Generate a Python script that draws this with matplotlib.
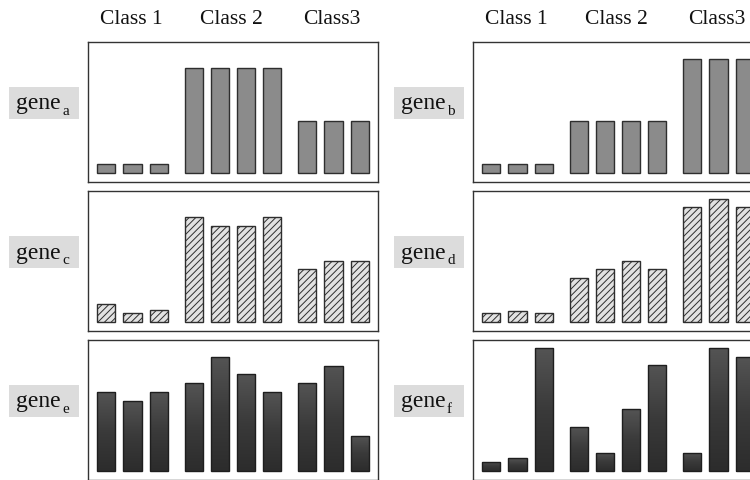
import numpy as np
import matplotlib
matplotlib.use("Agg")
import matplotlib.pyplot as plt
from matplotlib.colors import LinearSegmentedColormap
from matplotlib.patches import Rectangle
from matplotlib.text import Annotation

# ---- data ----
classes = ["Class 1", "Class 2", "Class3"]
group_sizes = [3, 4, 3]
gene_a = [8.7, 8.7, 8.7, 105, 105, 105, 105, 52, 52, 52]
gene_b = [8.7, 8.7, 8.7, 52, 52, 52, 52, 113.7, 113.7, 113.7]
gene_c = [17.7, 9, 12.3, 105.3, 96.3, 96.3, 105.3, 52.7, 61.3, 61.3]
gene_d = [9, 11.5, 9, 44, 52.7, 61.3, 52.7, 114.7, 123.3, 114.7]
gene_e = [79, 70.3, 79, 87.7, 114, 96.7, 79, 87.7, 105.3, 35.3]
gene_f = [9.3, 12.7, 123, 44.3, 18.3, 61.7, 105.7, 18.3, 123, 114.3]
gene_subs = ["a", "b", "c", "d", "e", "f"]

W, H = 750, 481
fig = plt.figure(figsize=(W / 100, H / 100), dpi=100)
fig.patch.set_facecolor("white")

serif = ["Liberation Serif", "DejaVu Serif"]

# x positions of bars: groups separated by an extra gap
gap = 0.335
xs = []
pos = 0.0
group_centers = []
for gi, n in enumerate(group_sizes):
    g = []
    for k in range(n):
        g.append(pos)
        pos += 1
    xs.extend(g)
    group_centers.append((g[0] + g[-1]) / 2)
    pos += gap
xs = np.array(xs)
bw = 0.69

grad_cmap = LinearSegmentedColormap.from_list("g", ["#2c2c2c", "#3a3a3a", "#545454"])
grad = np.linspace(0, 1, 256).reshape(-1, 1)

panel_left = [88, 473]
panel_w = 290
row_top = [43, 192, 341]
panel_h = 140
label_left = [9, 394]
label_w = 70

data = [[gene_a, gene_b], [gene_c, gene_d], [gene_e, gene_f]]
styles = ["solid", "hatch", "grad"]

for r in range(3):
    for c in range(2):
        vals = data[r][c]
        sub = gene_subs[r * 2 + c]
        x0 = panel_left[c]
        y_top = row_top[r]
        ax = fig.add_axes([x0 / W, (H - y_top - panel_h) / H, panel_w / W, panel_h / H])
        st = styles[r]
        if st == "solid":
            ax.bar(xs, vals, bw, color="#8b8b8b", edgecolor="#2e2e2e", linewidth=1.0, zorder=3)
        elif st == "hatch":
            with plt.rc_context({"hatch.color": "#7a7a7a", "hatch.linewidth": 0.7}):
                ax.bar(xs, vals, bw, color="#e2e2e2", edgecolor="#2e2e2e", linewidth=1.0,
                       hatch="/////", zorder=3)
        else:
            bars = ax.bar(xs, vals, bw, color="none", edgecolor="#1e1e1e", linewidth=1.0, zorder=3)
            for b in bars:
                bx, by = b.get_x(), b.get_y()
                w, h = b.get_width(), b.get_height()
                im = ax.imshow(grad, extent=(bx, bx + w, by, by + h), cmap=grad_cmap,
                               aspect="auto", origin="lower", zorder=2)
                im.set_clip_path(b)
        ax.set_xlim(xs[0] - 0.7, xs[-1] + 0.7)
        ax.set_ylim(-9, 131)
        ax.set_xticks([])
        ax.set_yticks([])
        for sp in ax.spines.values():
            sp.set_color("#333333")
            sp.set_linewidth(1.0)

        if r == 0:
            for gc, name in zip(group_centers, classes):
                ax.text(gc - 0.06, 1 + 23 / panel_h, name, transform=ax.get_xaxis_transform(),
                        ha="center", va="center", fontsize=15.5, family=serif, color="#111111")

        # gene label box
        lab_cy = y_top + panel_h / 2 - 9
        lx = label_left[c]
        fig.add_artist(Rectangle((lx / W, (H - lab_cy - 16) / H), label_w / W, 32 / H,
                                 transform=fig.transFigure, facecolor="#dcdcdc",
                                 edgecolor="none", zorder=1))
        t = fig.text((lx + 7) / W, (H - lab_cy) / H, "gene", ha="left", va="center",
                     fontsize=17, family=serif, color="#111111", zorder=2)
        a = Annotation(sub, xy=(1, 0), xycoords=t, xytext=(1.0, -2.5), textcoords="offset points",
                       ha="left", va="bottom", fontsize=11, family=serif, color="#111111",
                       annotation_clip=False, zorder=3)
        fig.add_artist(a)

fig.savefig("out.png", dpi=100, facecolor="white")
